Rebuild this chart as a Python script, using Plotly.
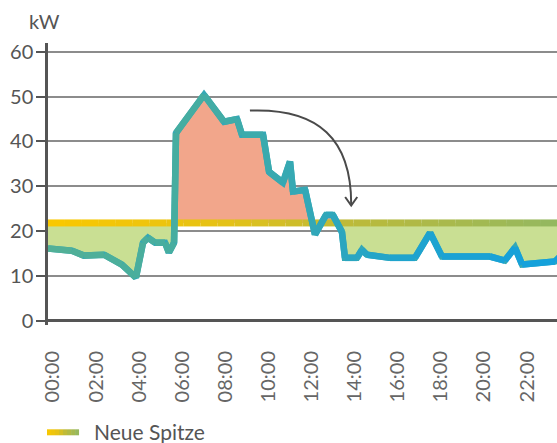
import plotly.graph_objects as go
import numpy as np

# ---------------- data ----------------
hours = [0.0, 1.11, 1.67, 2.60, 3.43, 4.08, 4.41, 4.64, 4.97, 5.43, 5.61, 5.85,
         5.94, 7.24, 8.17, 8.77, 9.00, 9.98, 10.26, 10.90, 11.23, 11.37, 11.93,
         12.39, 12.90, 13.22, 13.64, 13.78, 14.34, 14.57, 14.80, 15.87, 17.03,
         17.73, 18.28, 20.51, 21.20, 21.67, 22.00, 23.53, 23.76]
load_kw = [16.1, 15.6, 14.5, 14.7, 12.5, 9.6, 17.4, 18.5, 17.4, 17.4, 15.2, 17.4,
           41.9, 50.4, 44.4, 45.0, 41.5, 41.5, 33.2, 30.8, 35.5, 28.8, 29.2,
           19.2, 23.6, 23.6, 19.8, 14.0, 14.0, 15.8, 14.7, 14.0, 14.0,
           19.6, 14.3, 14.3, 13.4, 16.3, 12.5, 13.2, 14.3]
new_peak_kw = 21.8
peak_label = "Neue Spitze"
tick_hours = [0, 2, 4, 6, 8, 10, 12, 14, 16, 18, 20, 22]
tick_labels = ["00:00", "02:00", "04:00", "06:00", "08:00", "10:00",
               "12:00", "14:00", "16:00", "18:00", "20:00", "22:00"]
y_ticks = [0, 10, 20, 30, 40, 50, 60]
x_range = [0, 23.62]
y_range = [-1, 62]

# ---------------- styles ----------------
FONT = "Lato"
TXT = "#555555"
SALMON = "#f2a68b"
LIGHTGREEN = "#c9df93"
LABEL_SHIFT = 0.23  # visual offset of rotated hour labels
LINE_STOPS = [(0, (82, 176, 150)), (7, (68, 173, 162)), (12, (52, 168, 182)),
              (16, (32, 164, 204)), (24, (18, 160, 222))]
BAND_STOPS = [(0, (250, 200, 0)), (8, (230, 194, 22)), (14, (188, 186, 58)),
              (24, (146, 184, 98))]


def color_at(h, stops):
    for (h0, c0), (h1, c1) in zip(stops[:-1], stops[1:]):
        if h <= h1:
            t = (h - h0) / (h1 - h0)
            c = [round(a + (b - a) * t) for a, b in zip(c0, c1)]
            return f"rgb({c[0]},{c[1]},{c[2]})"
    c = stops[-1][1]
    return f"rgb({c[0]},{c[1]},{c[2]})"


# densify with threshold crossings
xs, ys = [hours[0]], [load_kw[0]]
for i in range(len(hours) - 1):
    x0, y0, x1, y1 = hours[i], load_kw[i], hours[i + 1], load_kw[i + 1]
    if (y0 - new_peak_kw) * (y1 - new_peak_kw) < 0:
        t = (new_peak_kw - y0) / (y1 - y0)
        xs.append(x0 + t * (x1 - x0))
        ys.append(new_peak_kw)
    xs.append(x1)
    ys.append(y1)
xs = np.array(xs)
ys = np.array(ys)
thr = np.full_like(xs, new_peak_kw)
upper = np.maximum(ys, thr)
lower = np.minimum(ys, thr)

fig = go.Figure()
nolegend = dict(showlegend=False, hoverinfo="skip")

# salmon area above the new peak
fig.add_trace(go.Scatter(x=xs, y=thr, mode="lines", line=dict(width=0), **nolegend))
fig.add_trace(go.Scatter(x=xs, y=upper, mode="lines", line=dict(width=0),
                         fill="tonexty", fillcolor=SALMON, **nolegend))
# green area below the new peak
fig.add_trace(go.Scatter(x=xs, y=thr, mode="lines", line=dict(width=0), **nolegend))
fig.add_trace(go.Scatter(x=xs, y=lower, mode="lines", line=dict(width=0),
                         fill="tonexty", fillcolor=LIGHTGREEN, **nolegend))

# new peak band with gradient
nseg = 30
bx = np.linspace(x_range[0], x_range[1], nseg + 1)
for i in range(nseg):
    fig.add_trace(go.Scatter(x=[bx[i], bx[i + 1]], y=[new_peak_kw, new_peak_kw],
                             mode="lines",
                             line=dict(color=color_at((bx[i] + bx[i + 1]) / 2, BAND_STOPS), width=7),
                             **nolegend))

# load line with gradient
fig.add_trace(go.Scatter(x=hours, y=load_kw, mode="lines",
                         line=dict(color=color_at(12, LINE_STOPS), width=6.5), **nolegend))
for i in range(len(hours) - 1):
    fig.add_trace(go.Scatter(x=hours[i:i + 2], y=load_kw[i:i + 2], mode="lines",
                             line=dict(color=color_at((hours[i] + hours[i + 1]) / 2, LINE_STOPS),
                                       width=6.5),
                             **nolegend))

# legend entry (swatch drawn as gradient below)
fig.add_trace(go.Scatter(x=[None], y=[None], mode="lines", name=peak_label,
                         line=dict(color="rgba(0,0,0,0)", width=6)))
sw_x0, sw_x1, sw_y = -0.002, 0.061, -0.3805
nsw = 8
for i in range(nsw):
    a = sw_x0 + (sw_x1 - sw_x0) * i / nsw
    b = sw_x0 + (sw_x1 - sw_x0) * (i + 1) / nsw
    fig.add_shape(type="line", xref="paper", yref="paper", x0=a, x1=b, y0=sw_y, y1=sw_y,
                  line=dict(color=color_at(24 * (i + 0.5) / nsw, BAND_STOPS), width=6))

# curved arrow annotation
fig.add_shape(type="path", path="M 9.37,46.9 C 12.58,47.5 14.07,40.4 14.07,26.0",
              line=dict(color="#4a4a4a", width=2))
fig.add_shape(type="path", path="M 13.79,27.6 L 14.07,25.7 L 14.35,27.6",
              line=dict(color="#4a4a4a", width=2))

fig.add_annotation(text="kW", xref="paper", yref="paper", x=-0.006, y=1.078,
                   xanchor="center", yanchor="middle", showarrow=False,
                   font=dict(family=FONT, size=20, color=TXT))

fig.update_layout(
    width=557, height=443,
    margin=dict(l=48, r=0, t=43, b=117.5, autoexpand=False),
    paper_bgcolor="white", plot_bgcolor="white",
    font=dict(family=FONT, color=TXT),
    showlegend=True,
    legend=dict(orientation="h", x=0.0118, xanchor="left", y=-0.3805, yanchor="middle",
                bgcolor="rgba(0,0,0,0)",
                font=dict(family=FONT, size=21, color=TXT)),
    xaxis=dict(range=x_range, tickvals=[h + LABEL_SHIFT for h in tick_hours],
               ticktext=tick_labels, automargin=False,
               tickangle=-90, showgrid=False, zeroline=False, showline=False,
               ticks="outside", ticklen=17, tickcolor="rgba(0,0,0,0)",
               tickfont=dict(family=FONT, size=20, color="#666666")),
    yaxis=dict(range=y_range, tickvals=y_ticks, showgrid=True, gridcolor="#8c8c8c",
               gridwidth=1.5, zeroline=True, zerolinecolor="#555555", zerolinewidth=2.5,
               showline=True, linecolor="#555555", linewidth=2.5, automargin=False,
               ticks="outside", ticklen=9, tickwidth=2, tickcolor="#555555",
               ticklabelstandoff=-1,
               tickfont=dict(family=FONT, size=20, color=TXT)),
)

fig.write_html("out.html", post_script="document.body.style.margin='0';",
               config={"displayModeBar": False})
